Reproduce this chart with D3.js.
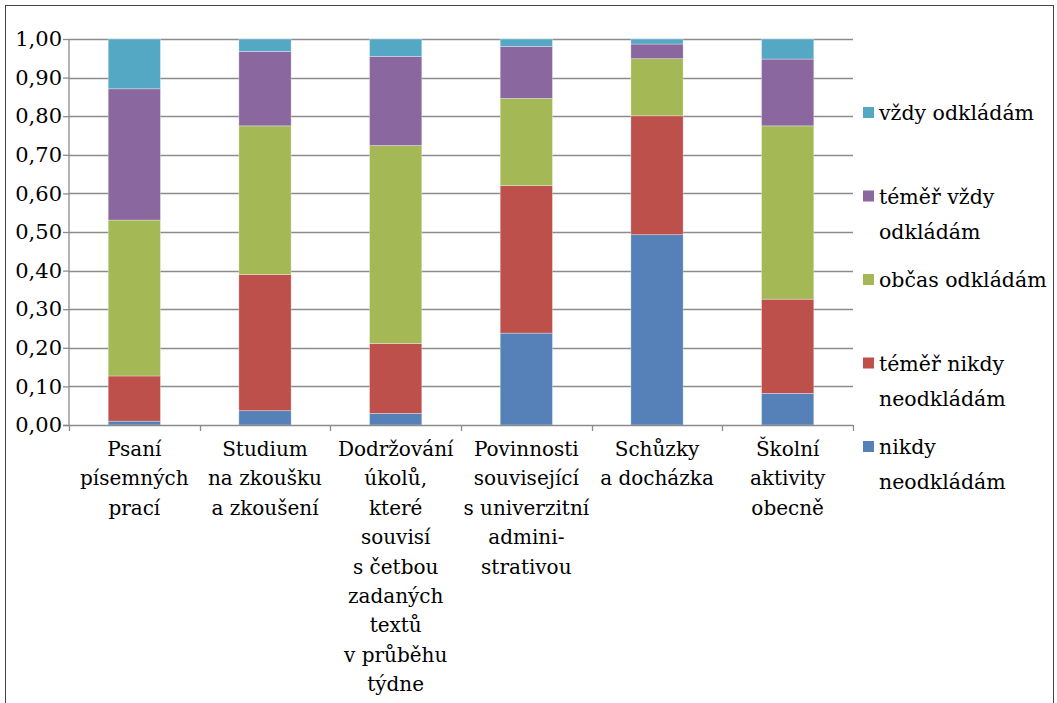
<!DOCTYPE html>
<html>
<head>
<meta charset="utf-8">
<script src="https://cdn.jsdelivr.net/npm/d3@7"></script>
<style>
  body { margin: 0; background: #fff; }
  text { font-family: "DejaVu Serif", serif; fill: #000; }
</style>
</head>
<body>
<div id="chart"></div>
<script>
// categories (multi-line labels as in the original)
const categories = [
  ['Psaní', 'písemných', 'prací'],
  ['Studium', 'na zkoušku', 'a zkoušení'],
  ['Dodržování', 'úkolů,', 'které', 'souvisí', 's četbou', 'zadaných', 'textů', 'v průběhu', 'týdne'],
  ['Povinnosti', 'související', 's univerzitní', 'admini-', 'strativou'],
  ['Schůzky', 'a docházka'],
  ['Školní', 'aktivity', 'obecně']
];

// series, bottom to top
const seriesNames = ['nikdy neodkládám', 'téměř nikdy neodkládám', 'občas odkládám', 'téměř vždy odkládám', 'vždy odkládám'];
const nikdy      = [0.010, 0.037, 0.030, 0.238, 0.493, 0.082];
const temerNikdy = [0.117, 0.353, 0.181, 0.382, 0.308, 0.244];
const obcas      = [0.404, 0.385, 0.513, 0.226, 0.148, 0.449];
const temerVzdy  = [0.340, 0.193, 0.231, 0.135, 0.038, 0.173];
const vzdy       = [0.129, 0.032, 0.045, 0.019, 0.013, 0.052];

// legend labels, top to bottom
const legendItems = [
  { key: 'vždy odkládám', lines: ['vždy odkládám'] },
  { key: 'téměř vždy odkládám', lines: ['téměř vždy', 'odkládám'] },
  { key: 'občas odkládám', lines: ['občas odkládám'] },
  { key: 'téměř nikdy neodkládám', lines: ['téměř nikdy', 'neodkládám'] },
  { key: 'nikdy neodkládám', lines: ['nikdy', 'neodkládám'] }
];

const yTicks = [0, 0.1, 0.2, 0.3, 0.4, 0.5, 0.6, 0.7, 0.8, 0.9, 1.0];

const colors = ['#5580B8', '#BE504B', '#A4B856', '#8A679E', '#55A8C3'];

const W = 1057, H = 703;
const pLeft = 69, pRight = 853, pTop = 39, pBottom = 425;

const svg = d3.select('#chart').append('svg')
  .attr('width', W).attr('height', H);

// outer frame
svg.append('rect')
  .attr('x', 5.5).attr('y', 5.5)
  .attr('width', 1048).attr('height', 720)
  .attr('fill', 'none').attr('stroke', '#444').attr('stroke-width', 1);

const table = categories.map((c, i) => ({
  idx: i,
  [seriesNames[0]]: nikdy[i],
  [seriesNames[1]]: temerNikdy[i],
  [seriesNames[2]]: obcas[i],
  [seriesNames[3]]: temerVzdy[i],
  [seriesNames[4]]: vzdy[i]
}));

const stack = d3.stack().keys(seriesNames)(table);

const x = d3.scaleBand()
  .domain(d3.range(categories.length))
  .range([pLeft, pRight])
  .paddingInner(0.6)
  .paddingOuter(0.3);

const y = d3.scaleLinear()
  .domain([0, 1])
  .range([pBottom, pTop]);

const color = d3.scaleOrdinal().domain(seriesNames).range(colors);

// gridlines
svg.append('g')
  .selectAll('line')
  .data(yTicks.filter(d => d > 0))
  .enter()
  .append('line')
  .attr('x1', pLeft).attr('x2', pRight)
  .attr('y1', d => Math.round(y(d)) + 0.5)
  .attr('y2', d => Math.round(y(d)) + 0.5)
  .attr('stroke', '#8c8c8c').attr('stroke-width', 1.3);

// bars
svg.append('g')
  .selectAll('g')
  .data(stack)
  .enter()
  .append('g')
  .attr('fill', d => color(d.key))
  .selectAll('rect')
  .data(d => d)
  .enter()
  .append('rect')
  .attr('x', d => x(d.data.idx))
  .attr('width', x.bandwidth())
  .attr('y', d => y(d[1]))
  .attr('height', d => y(d[0]) - y(d[1]))
  .attr('stroke', 'rgba(255,255,255,0.45)')
  .attr('stroke-width', 0.7);

// y axis
const yAxis = svg.append('g')
  .attr('transform', 'translate(' + pLeft + ',0)')
  .call(d3.axisLeft(y).tickValues(yTicks).tickSize(6).tickPadding(1)
    .tickFormat(d => d3.format('.2f')(d).replace('.', ',')));
yAxis.selectAll('path, line').attr('stroke', '#8c8c8c').attr('stroke-width', 1.3);
yAxis.select('.domain').attr('d', 'M0,' + pTop + 'V' + pBottom);
yAxis.selectAll('text').attr('font-size', 21).attr('font-family', '"DejaVu Serif", serif').attr('fill', '#000');

// x axis: line and ticks at category boundaries
const xAxis = svg.append('g');
xAxis.append('line')
  .attr('x1', pLeft - 6).attr('x2', pRight)
  .attr('y1', pBottom + 0.5).attr('y2', pBottom + 0.5)
  .attr('stroke', '#8c8c8c').attr('stroke-width', 1.3);
xAxis.selectAll('.tk')
  .data(d3.range(categories.length + 1))
  .enter()
  .append('line')
  .attr('x1', i => Math.round(pLeft + i * x.step()) + 0.5)
  .attr('x2', i => Math.round(pLeft + i * x.step()) + 0.5)
  .attr('y1', pBottom).attr('y2', pBottom + 6)
  .attr('stroke', '#8c8c8c').attr('stroke-width', 1.3);

// category labels
const labels = svg.append('g')
  .selectAll('text')
  .data(categories)
  .enter()
  .append('text')
  .attr('text-anchor', 'middle')
  .attr('font-size', 20)
  .attr('x', (d, i) => x(i) + x.bandwidth() / 2)
  .attr('y', 456);
labels.selectAll('tspan')
  .data(d => d)
  .enter()
  .append('tspan')
  .attr('x', function () { return d3.select(this.parentNode).attr('x'); })
  .attr('dy', (d, i) => i === 0 ? 0 : 29.4)
  .text(d => d);

// legend
const legend = svg.append('g')
  .selectAll('g')
  .data(legendItems)
  .enter()
  .append('g')
  .attr('transform', (d, i) => 'translate(863,' + (113 + i * 83.5) + ')');
legend.append('rect')
  .attr('x', 0).attr('y', -6)
  .attr('width', 11).attr('height', 11)
  .attr('fill', d => color(d.key));
const lt = legend.append('text')
  .attr('font-size', 20.5)
  .attr('x', 16).attr('y', 7);
lt.selectAll('tspan')
  .data(d => d.lines)
  .enter()
  .append('tspan')
  .attr('x', 16)
  .attr('dy', (d, i) => i === 0 ? 0 : 35)
  .text(d => d);
</script>
</body>
</html>
